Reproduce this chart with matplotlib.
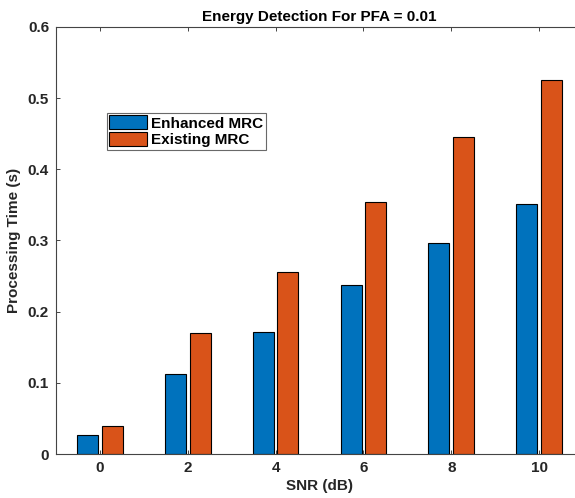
import matplotlib
matplotlib.use("Agg")
import matplotlib.pyplot as plt
import numpy as np

snr = [0, 2, 4, 6, 8, 10]
enhanced = [0.027, 0.113, 0.171, 0.237, 0.297, 0.351]
existing = [0.040, 0.170, 0.256, 0.354, 0.446, 0.525]
series_names = ["Enhanced MRC", "Existing MRC"]
title = "Energy Detection For PFA = 0.01"

plt.rcParams['font.family'] = ['Liberation Sans', 'DejaVu Sans']
plt.rcParams['font.weight'] = 'bold'

fig = plt.figure(figsize=(5.75, 4.98), dpi=100)
W, H = 575, 498
l, r, t, b = 56, 583, 27, 454
ax = fig.add_axes([l / W, 1 - b / H, (r - l) / W, (b - t) / H])

x = np.array(snr, dtype=float)
off = 0.28
w = 0.48
ax.bar(x - off, enhanced, w, color='#0072BD', edgecolor='black', linewidth=0.8, label=series_names[0])
ax.bar(x + off, existing, w, color='#D95319', edgecolor='black', linewidth=0.8, label=series_names[1])

ax.set_xlim(-1, 11)
ax.set_ylim(0, 0.6)
ax.set_xticks(snr)
ax.set_yticks([0, 0.1, 0.2, 0.3, 0.4, 0.5, 0.6])
ax.set_yticklabels(['0', '0.1', '0.2', '0.3', '0.4', '0.5', '0.6'])
grey = '#262626'
for s in ax.spines.values():
    s.set_color('#444444')
    s.set_linewidth(0.8)
ax.tick_params(direction='in', top=True, right=True, length=3, width=0.6,
               labelsize=11, colors=grey, pad=5)
for lab in ax.get_xticklabels() + ax.get_yticklabels():
    lab.set_fontweight('bold')

ax.set_title(title, fontsize=11, fontweight='bold', color='black', pad=4)
ax.set_xlabel("SNR (dB)", fontsize=11, fontweight='bold', color=grey, labelpad=3)
ax.set_ylabel("Processing Time (s)", fontsize=11, fontweight='bold', color=grey, labelpad=5)

leg = ax.legend(loc='upper left', bbox_to_anchor=((107 - l) / (r - l), 1 - (113 - t) / (b - t)),
                fontsize=11, frameon=True, fancybox=False, borderaxespad=0,
                handlelength=2.5, handleheight=1.05, handletextpad=0.25,
                labelspacing=0.1, borderpad=0.15)
leg.get_frame().set_edgecolor('#444444')
leg.get_frame().set_linewidth(0.8)
for txt in leg.get_texts():
    txt.set_fontweight('bold')

fig.savefig("out.png", dpi=100)
